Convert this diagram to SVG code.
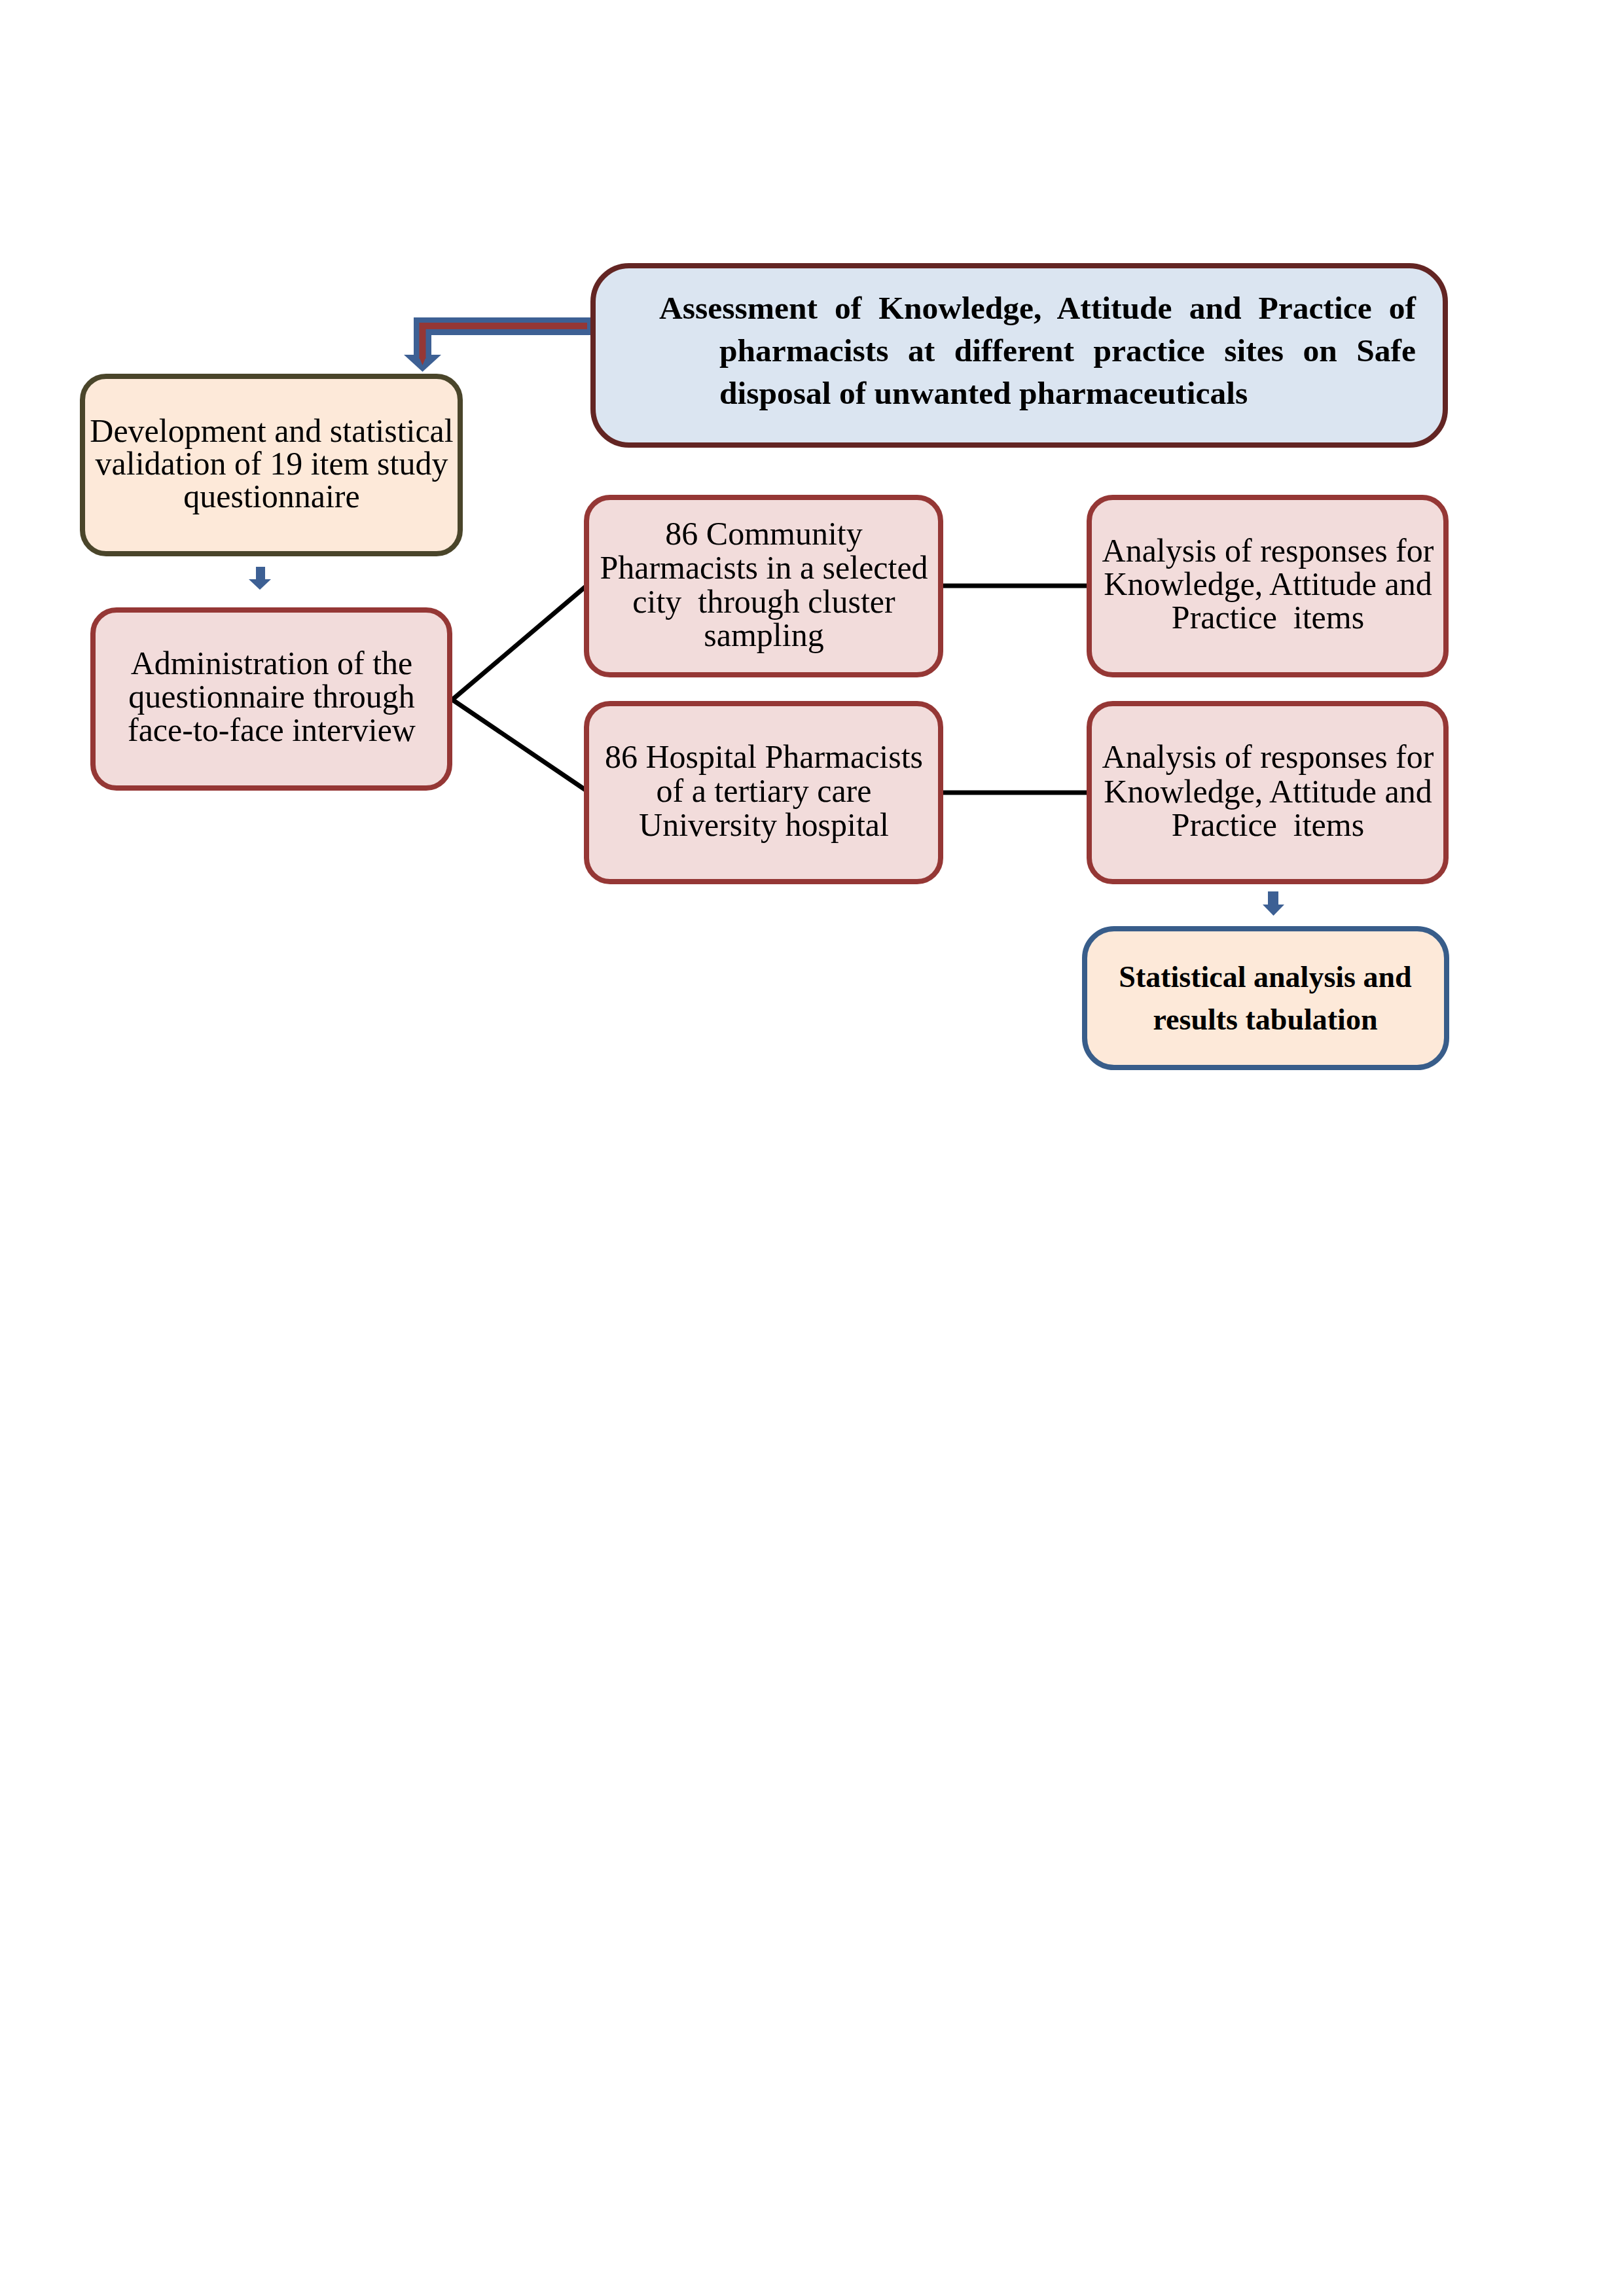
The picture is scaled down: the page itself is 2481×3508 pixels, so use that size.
<svg xmlns="http://www.w3.org/2000/svg" width="2481" height="3508" viewBox="0 0 2481 3508">
<style>
.t{font-family:"Liberation Serif","Times New Roman",serif;font-size:50px;fill:#000;text-anchor:middle}
.b{font-family:"Liberation Serif","Times New Roman",serif;font-weight:bold;fill:#000}
.pink{fill:#f2dcdb;stroke:#953735;stroke-width:8}
.cn{stroke:#000;stroke-width:7;fill:none}
.ba{fill:#3d6094}
</style>
<rect width="2481" height="3508" fill="#ffffff"/>
<g id="connectors">
<line class="cn" x1="691" y1="1069" x2="896" y2="895"/>
<line class="cn" x1="691" y1="1069" x2="896" y2="1208"/>
<line class="cn" x1="1437" y1="895" x2="1664" y2="895"/>
<line class="cn" x1="1437" y1="1211" x2="1664" y2="1211"/>
<path d="M903 498.5 H645.5 V545" fill="none" stroke="#3d6094" stroke-width="27"/>
<polygon class="ba" points="617,542 674,542 645.5,568"/>
<path d="M897 498 H645.5 V548" fill="none" stroke="#953735" stroke-width="10"/>
<polygon points="640.5,546 650.5,546 645.5,558" fill="#953735"/>
<polygon class="ba" points="391,866 405,866 405,885 414,885 397,901 380,885 391,885"/>
<polygon class="ba" points="1937,1362 1953,1362 1953,1382 1962,1382 1945.5,1399 1929,1382 1937,1382"/>
</g>
<g id="node-assessment">
<rect x="906" y="406" width="1302" height="274" rx="55" fill="#dbe5f1" stroke="#632523" stroke-width="8"/>
<text class="b" font-size="49.5" x="1007" y="487" word-spacing="13.7">Assessment of Knowledge, Attitude and Practice of</text>
<text class="b" font-size="49.5" x="1099" y="552" word-spacing="17.1">pharmacists at different practice sites on Safe</text>
<text class="b" font-size="49.5" x="1099" y="617">disposal of unwanted pharmaceuticals</text>
</g>
<g id="node-development">
<rect x="126" y="575" width="577" height="271" rx="36" fill="#fde9d9" stroke="#4a452a" stroke-width="8"/>
<text class="t" x="415" y="675">Development and statistical</text>
<text class="t" x="415" y="725">validation of 19 item study</text>
<text class="t" x="415" y="775">questionnaire</text>
</g>
<g id="node-administration">
<rect class="pink" x="142" y="932" width="545" height="272" rx="36"/>
<text class="t" x="415" y="1030">Administration of the</text>
<text class="t" x="415" y="1081">questionnaire through</text>
<text class="t" x="415" y="1132">face-to-face interview</text>
</g>
<g id="node-community">
<rect class="pink" x="896" y="760" width="541" height="271" rx="36"/>
<text class="t" x="1167" y="832">86 Community</text>
<text class="t" x="1167" y="884">Pharmacists in a selected</text>
<text class="t" x="1167" y="936" xml:space="preserve">city  through cluster</text>
<text class="t" x="1167" y="987">sampling</text>
</g>
<g id="node-hospital">
<rect class="pink" x="896" y="1075" width="541" height="272" rx="36"/>
<text class="t" x="1167" y="1173">86 Hospital Pharmacists</text>
<text class="t" x="1167" y="1225">of a tertiary care</text>
<text class="t" x="1167" y="1277">University hospital</text>
</g>
<g id="node-analysis-1">
<rect class="pink" x="1664" y="760" width="545" height="271" rx="36"/>
<text class="t" x="1937" y="858">Analysis of responses for</text>
<text class="t" x="1937" y="909">Knowledge, Attitude and</text>
<text class="t" x="1937" y="960" xml:space="preserve">Practice  items</text>
</g>
<g id="node-analysis-2">
<rect class="pink" x="1664" y="1075" width="545" height="272" rx="36"/>
<text class="t" x="1937" y="1173">Analysis of responses for</text>
<text class="t" x="1937" y="1226">Knowledge, Attitude and</text>
<text class="t" x="1937" y="1277" xml:space="preserve">Practice  items</text>
</g>
<g id="node-statistical">
<rect x="1657" y="1419" width="553" height="212" rx="45" fill="#fde9d9" stroke="#385d8a" stroke-width="8"/>
<text class="b" font-size="46" text-anchor="middle" x="1933" y="1508">Statistical analysis and</text>
<text class="b" font-size="46" text-anchor="middle" x="1933" y="1573">results tabulation</text>
</g>
</svg>
